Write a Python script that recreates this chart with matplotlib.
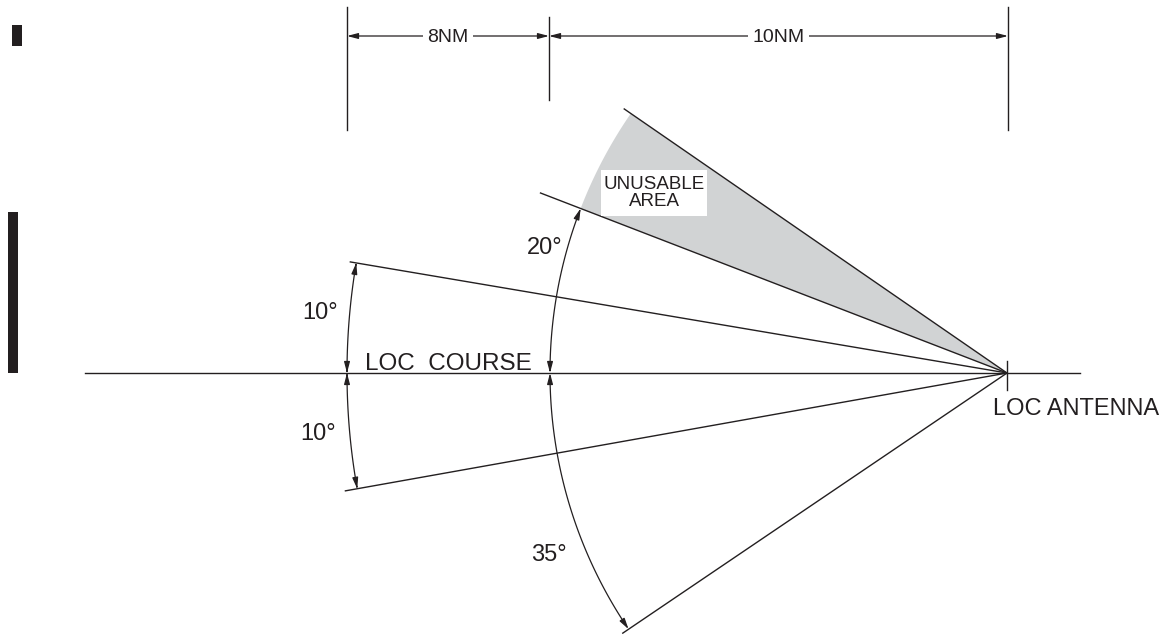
import numpy as np
import matplotlib
matplotlib.use("Agg")
import matplotlib.pyplot as plt
from matplotlib.patches import FancyArrowPatch, Polygon, Rectangle
from matplotlib.path import Path

plt.rcParams["font.family"] = ["Liberation Sans", "DejaVu Sans"]

INK = "#231f20"
SHADE = "#d1d3d4"

# antenna position (pixel-like drawing units, y down)
antenna = (1007, 373)

# rays from the antenna: angle above course (deg), length
ray_angles = [34.6, 21.1, 9.6, -10.1, -34.1]
ray_lengths = [465, 500, 666, 672, 464]

# angle arcs: radius, start angle, end angle, label, label position
arc_radii = [660, 660, 457, 457]
arc_from = [0, 0, 0, 0]
arc_to = [9.6, -10.1, 21.1, -34.1]
arc_labels = ["10°", "10°", "20°", "35°"]
arc_label_xy = [(320, 313), (318, 434), (545, 248), (549, 555)]

# unusable sector between these angles, out to this radius
unusable_angles = (21.1, 34.6)
unusable_radius = 457

# distance marks along the top
dim_x = [347, 549, 1008]
dim_top = [7, 17, 7]
dim_bottom = [130, 100, 130]
dim_labels = ["8NM", "10NM"]
dim_y = 36


def polar(r, a):
    a = np.radians(a)
    return antenna[0] - r * np.cos(a), antenna[1] - r * np.sin(a)


fig = plt.figure(figsize=(11.74, 6.37), dpi=100)
ax = fig.add_axes([0, 0, 1, 1])
ax.set_xlim(0, 1174)
ax.set_ylim(637, 0)
ax.axis("off")

# shaded unusable area
angs = np.linspace(unusable_angles[0], unusable_angles[1], 60)
pts = [polar(unusable_radius, a) for a in angs] + [antenna]
ax.add_patch(Polygon(pts, closed=True, fc=SHADE, ec="none", zorder=1))

# course line and antenna tick
ax.plot([85, 1080], [antenna[1], antenna[1]], color=INK, lw=1.0, zorder=2)
ax.plot([antenna[0], antenna[0]], [361, 390], color=INK, lw=1.0, zorder=2)

# rays
for a, L in zip(ray_angles, ray_lengths):
    x, y = polar(L, a)
    ax.plot([antenna[0], x], [antenna[1], y], color=INK, lw=1.0, zorder=2)

# angle arcs with arrowheads
for r, a0, a1, lab, (tx, ty) in zip(arc_radii, arc_from, arc_to, arc_labels, arc_label_xy):
    angs = np.linspace(a0, a1, 80)
    verts = [polar(r, a) for a in angs]
    arr = FancyArrowPatch(path=Path(verts), arrowstyle="<|-|>,head_length=0.65,head_width=0.17",
                          mutation_scale=10, color=INK, lw=0.9, zorder=3)
    ax.add_patch(arr)
    ax.text(tx, ty, lab, fontsize=17, color=INK, ha="center", va="center")

# distance marks
for x, y0, y1 in zip(dim_x, dim_top, dim_bottom):
    ax.plot([x, x], [y0, y1], color=INK, lw=1.0)
for i, lab in enumerate(dim_labels):
    x0, x1 = dim_x[i], dim_x[i + 1]
    ax.add_patch(FancyArrowPatch((x0, dim_y), (x1, dim_y),
                                 arrowstyle="<|-|>,head_length=0.65,head_width=0.17",
                                 mutation_scale=10, color=INK, lw=0.9,
                                 shrinkA=0, shrinkB=0))
    ax.text((x0 + x1) / 2, dim_y + 1, lab, fontsize=14, color=INK, ha="center", va="center",
            bbox=dict(fc="white", ec="none", pad=3))

# labels
ax.add_patch(Rectangle((601, 170), 106, 46, fc="white", ec="none", zorder=4))
ax.text(654, 193, "UNUSABLE\nAREA", fontsize=13.5, color=INK, ha="center", va="center",
        linespacing=1.05, zorder=5)
ax.text(448, 364, "LOC  COURSE", fontsize=17.5, color=INK, ha="center", va="center")
ax.text(1076, 409, "LOC ANTENNA", fontsize=17, color=INK, ha="center", va="center")

# marks at the left edge
ax.add_patch(Rectangle((12, 25), 10, 21, fc=INK, ec="none"))
ax.add_patch(Rectangle((8, 212), 10, 161, fc=INK, ec="none"))

fig.savefig("out.png", dpi=100)
